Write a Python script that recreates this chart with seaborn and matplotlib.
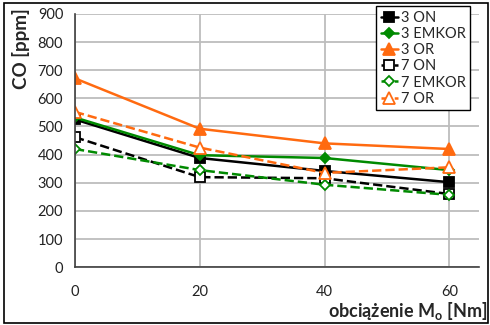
import numpy as np
import pandas as pd
import seaborn as sns
import matplotlib.pyplot as plt
from matplotlib.patches import Rectangle

# obciazenie [Nm]
load = [0, 20, 40, 60]

co_3_on = [525, 388, 342, 302]
co_3_emkor = [532, 398, 388, 345]
co_3_or = [671, 492, 440, 420]
co_7_on = [462, 320, 316, 260]
co_7_emkor = [420, 345, 293, 257]
co_7_or = [552, 425, 335, 355]

labels = ["3 ON", "3 EMKOR", "3 OR", "7 ON", "7 EMKOR", "7 OR"]
series = [co_3_on, co_3_emkor, co_3_or, co_7_on, co_7_emkor, co_7_or]

black = "#000000"
green = "#008a00"
orange = "#ff6a10"
styles = [
    dict(color=black, marker="s", linestyle="-", mfc=black, ms=7),
    dict(color=green, marker="D", linestyle="-", mfc=green, ms=5),
    dict(color=orange, marker="^", linestyle="-", mfc=orange, ms=8),
    dict(color=black, marker="s", linestyle="--", mfc="white", ms=7),
    dict(color=green, marker="D", linestyle="--", mfc="white", ms=5),
    dict(color=orange, marker="^", linestyle="--", mfc="white", ms=8),
]

sns.set_style("white")
plt.rcParams["font.family"] = ["Lato", "DejaVu Sans"]

fig = plt.figure(figsize=(4.9, 3.25), dpi=100)
ax = fig.add_axes([0.153, 0.178, 0.825, 0.779])

for lab, vals, st in zip(labels, series, styles):
    df = pd.DataFrame({"x": load, "y": vals})
    sns.lineplot(data=df, x="x", y="y", ax=ax, label=lab, lw=1.8,
                 mew=1.3, mec=st["color"], dashes=False, **st)

ax.set_xlim(0, 64.8)
ax.set_ylim(0, 900)
ax.set_xticks([0, 20, 40, 60])
ax.set_yticks(range(0, 901, 100))
ax.grid(True, color="#bdbdbd", lw=1.3)
ax.set_axisbelow(True)
for s in ["top", "right"]:
    ax.spines[s].set_visible(False)
for s in ["left", "bottom"]:
    ax.spines[s].set_color("#404040")
    ax.spines[s].set_linewidth(1.2)
ax.tick_params(axis="both", direction="out", length=5, width=1, color="#404040",
               labelsize=10.5, colors="#222222")
ax.tick_params(axis="x", pad=8)
ax.set_xlabel("")
ax.set_ylabel("")

leg = ax.legend(loc="upper left", bbox_to_anchor=(0.745, 1.03), fontsize=10.5,
                frameon=True, fancybox=False, framealpha=1, edgecolor="black",
                handlelength=1.2, handletextpad=0.2, borderpad=0.3,
                labelspacing=0.15, borderaxespad=0)
leg.get_frame().set_linewidth(1.0)

fig.text(0.994, 0.042, "obciążenie M$_\\mathregular{o}$ [Nm]", ha="right", va="center",
         fontsize=13, fontweight="bold")
fig.text(0.042, 0.975, "CO [ppm]", rotation=90, ha="center", va="top",
         fontsize=13.5, fontweight="bold")

fig.patches.append(Rectangle((0.008, 0.006), 0.988, 0.984, transform=fig.transFigure,
                             fill=False, edgecolor="black", lw=1.2))

fig.savefig("out.png", dpi=100)
